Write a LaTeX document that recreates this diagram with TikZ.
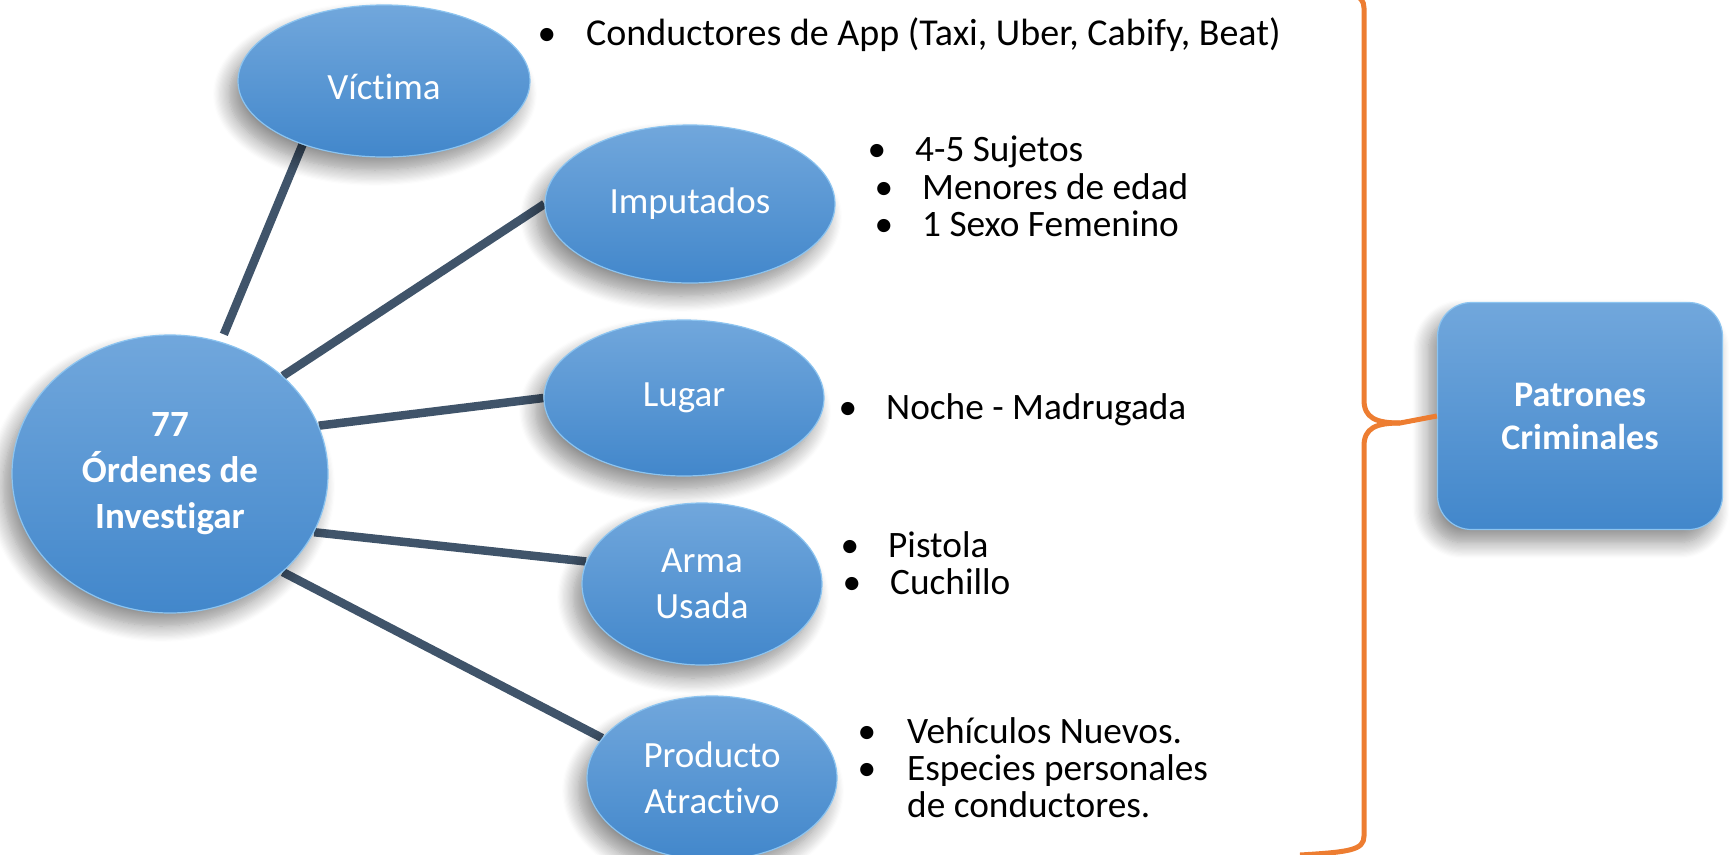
\documentclass[tikz,border=0pt]{standalone}
\usepackage{fontspec}
\setmainfont{Carlito}[Ligatures={NoCommon,TeX}]
\usetikzlibrary{shapes.geometric,shadows.blur,backgrounds}
\definecolor{topblue}{RGB}{113,167,220}
\definecolor{botblue}{RGB}{66,135,203}
\definecolor{rimblue}{RGB}{140,196,240}
\definecolor{linkcol}{RGB}{64,84,106}
\definecolor{bracecol}{RGB}{237,125,49}
\begin{document}
\begin{tikzpicture}[x=1pt,y=-1pt,
  softshadow/.style={blur shadow={shadow xshift=-9pt, shadow yshift=-13pt, shadow blur radius=16pt, shadow blur steps=14, shadow opacity=45}},
  bubble/.style={ellipse, inner sep=0pt, top color=topblue, bottom color=botblue,
    draw=rimblue, line width=1.2pt, text=white, align=center,
    font=\fontsize{37}{46}\selectfont, softshadow},
  patbox/.style={rectangle, rounded corners=34pt, inner sep=0pt, top color=topblue, bottom color=botblue,
    draw=rimblue, line width=1.2pt, text=white, align=center,
    font=\fontsize{36}{43}\selectfont\bfseries, softshadow},
  link/.style={draw=linkcol, line width=8.5pt},
  bracestroke/.style={draw=bracecol, line width=5pt, line join=round},
  txt/.style={anchor=base west, inner sep=0pt, font=\fontsize{37.3}{45}\selectfont},
  bul/.style={anchor=base, inner sep=0pt, font=\fontsize{37.3}{45}\selectfont}]
\useasboundingbox (0,0) rectangle (1729,854);

% main nodes
\node[bubble, minimum width=316pt, minimum height=278pt] (inv) at (170,474) {\bfseries 77\\\bfseries Órdenes de\\\bfseries Investigar};
\node[bubble, minimum width=292pt, minimum height=152pt] (vic) at (384,81) {\raisebox{-6pt}[\height][\depth]{Víctima}};
\node[bubble, minimum width=290pt, minimum height=158pt] (imp) at (690,204) {Imputados};
\node[bubble, minimum width=280pt, minimum height=156pt] (lug) at (684,398) {Lugar};
\node[bubble, minimum width=240pt, minimum height=162pt] (arm) at (702,584) {Arma\\Usada};
\node[bubble, minimum width=250pt, minimum height=164pt] (pro) at (712,778) {Producto\\Atractivo};
\node[patbox, minimum width=285pt, minimum height=227pt] (pat) at (1580,416) {Patrones\\Criminales};

% connectors
\begin{scope}[on background layer]
\draw[link, shorten <=8pt] (inv.69) -- (vic.218);
\draw[link] (inv.41.5) -- (imp.west);
\draw[link] (inv.18) -- (lug.west);
\draw[link] (inv.-22) -- (arm.169);
\draw[link] (inv.-41) -- (pro.160);
\end{scope}

% bullet texts
\node[bul] (b1) at (547,45) {•};
\node[txt, font=\fontsize{38}{45}\selectfont] (t1) at (586,45) {Conductores de App (Taxi, Uber, Cabify, Beat)};

\node[bul] (b2) at (877,161) {•};
\node[txt] (t2) at (915,161) {4-5 Sujetos};
\node[bul] (b3) at (884,199) {•};
\node[txt] (t3) at (922,199) {Menores de edad};
\node[bul] (b4) at (884,236) {•};
\node[txt] (t4) at (922,236) {1 Sexo Femenino};

\node[bul] (b5) at (848,419) {•};
\node[txt] (t5) at (886,419) {Noche - Madrugada};

\node[bul] (b6) at (850,557) {•};
\node[txt] (t6) at (888,557) {Pistola};
\node[bul] (b7) at (852,594) {•};
\node[txt] (t7) at (890,594) {Cuchillo};

\node[bul] (b8) at (867,743) {•};
\node[txt] (t8) at (907,743) {Vehículos Nuevos.};
\node[bul] (b9) at (867,780) {•};
\node[txt] (t9) at (907,780) {Especies personales};
\node[txt] (t10) at (907,817) {de conductores.};

% brace
\draw[bracestroke] (1300,-12) .. controls (1350,-10) and (1364,-6) .. (1364,8) -- (1364,400)
  .. controls (1364,418) and (1376,423) .. (1400,423) -- (pat.west);
\draw[bracestroke] (1400,423) .. controls (1376,423) and (1364,428) .. (1364,446) -- (1364,836)
  .. controls (1364,850) and (1350,852) .. (1300,855);
\end{tikzpicture}
\end{document}
